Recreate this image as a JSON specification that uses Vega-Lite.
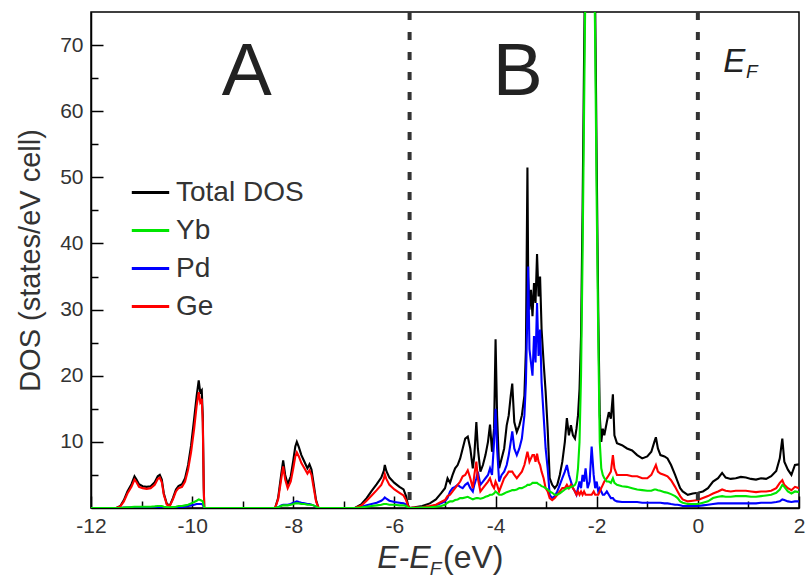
{
  "$schema": "https://vega.github.io/schema/vega-lite/v6.json",
  "width": 708,
  "height": 496,
  "autosize": {"type": "none"},
  "padding": {"left": 91, "top": 12, "right": 8, "bottom": 72},
  "config": {
    "font": "Liberation Sans",
    "view": {"stroke": "#000", "strokeWidth": 1.5},
    "axis": {"grid": false, "domainColor": "#000", "domainWidth": 1.5, "tickColor": "#000", "tickWidth": 1.5, "labelColor": "#333", "labelFontSize": 21, "titleColor": "#333", "titleFontWeight": "normal"},
    "legend": {"orient": "none", "legendX": 39, "legendY": 160, "symbolType": "stroke", "symbolStrokeWidth": 3, "symbolSize": 1400, "labelFontSize": 28, "labelColor": "#333", "labelOffset": 5, "rowPadding": 3}
  },
  "resolve": {"axis": {"x": "independent", "y": "independent"}},
  "datasets": {
    "dos": [
      {"x": -12, "T": 0, "Yb": 0, "Pd": 0, "Ge": 0},
      {"x": -11.5, "T": 0, "Yb": 0, "Pd": 0, "Ge": 0},
      {"x": -11.42, "T": 0.3, "Yb": 0, "Pd": 0, "Ge": 0.25},
      {"x": -11.35, "T": 1.2, "Yb": 0.05, "Pd": 0.05, "Ge": 1.0},
      {"x": -11.28, "T": 2.5, "Yb": 0.1, "Pd": 0.05, "Ge": 2.2},
      {"x": -11.2, "T": 3.6, "Yb": 0.15, "Pd": 0.1, "Ge": 3.2},
      {"x": -11.14, "T": 4.8, "Yb": 0.2, "Pd": 0.1, "Ge": 4.3},
      {"x": -11.1, "T": 4.3, "Yb": 0.2, "Pd": 0.1, "Ge": 3.9},
      {"x": -11.05, "T": 3.6, "Yb": 0.2, "Pd": 0.1, "Ge": 3.2},
      {"x": -10.98, "T": 3.3, "Yb": 0.2, "Pd": 0.1, "Ge": 3.0},
      {"x": -10.9, "T": 3.2, "Yb": 0.2, "Pd": 0.1, "Ge": 2.9},
      {"x": -10.82, "T": 3.3, "Yb": 0.2, "Pd": 0.1, "Ge": 3.0},
      {"x": -10.74, "T": 3.9, "Yb": 0.25, "Pd": 0.1, "Ge": 3.5},
      {"x": -10.68, "T": 4.8, "Yb": 0.3, "Pd": 0.1, "Ge": 4.4},
      {"x": -10.64, "T": 5.0, "Yb": 0.3, "Pd": 0.1, "Ge": 4.6},
      {"x": -10.6, "T": 4.3, "Yb": 0.3, "Pd": 0.1, "Ge": 3.9},
      {"x": -10.56, "T": 2.2, "Yb": 0.2, "Pd": 0.1, "Ge": 2.0},
      {"x": -10.5, "T": 0.6, "Yb": 0.1, "Pd": 0.05, "Ge": 0.5},
      {"x": -10.44, "T": 0.4, "Yb": 0.1, "Pd": 0.05, "Ge": 0.35},
      {"x": -10.38, "T": 1.5, "Yb": 0.15, "Pd": 0.1, "Ge": 1.3},
      {"x": -10.32, "T": 2.8, "Yb": 0.2, "Pd": 0.1, "Ge": 2.5},
      {"x": -10.27, "T": 3.3, "Yb": 0.3, "Pd": 0.1, "Ge": 3.0},
      {"x": -10.2, "T": 3.6, "Yb": 0.3, "Pd": 0.15, "Ge": 3.2},
      {"x": -10.14, "T": 4.5, "Yb": 0.4, "Pd": 0.2, "Ge": 4.0},
      {"x": -10.08, "T": 6.5, "Yb": 0.5, "Pd": 0.3, "Ge": 5.8},
      {"x": -10.02, "T": 9.5, "Yb": 0.7, "Pd": 0.4, "Ge": 8.5},
      {"x": -9.96, "T": 13.5, "Yb": 0.9, "Pd": 0.5, "Ge": 12.0},
      {"x": -9.91, "T": 17.0, "Yb": 1.1, "Pd": 0.6, "Ge": 15.5},
      {"x": -9.87, "T": 19.3, "Yb": 1.3, "Pd": 0.6, "Ge": 17.5},
      {"x": -9.84, "T": 17.5, "Yb": 1.2, "Pd": 0.6, "Ge": 16.0},
      {"x": -9.81, "T": 17.8, "Yb": 1.1, "Pd": 0.6, "Ge": 16.5},
      {"x": -9.79, "T": 14.0, "Yb": 1.0, "Pd": 0.5, "Ge": 13.0},
      {"x": -9.77, "T": 3.0, "Yb": 0.3, "Pd": 0.1, "Ge": 2.8},
      {"x": -9.76, "T": 0, "Yb": 0, "Pd": 0, "Ge": 0},
      {"x": -8.36, "T": 0, "Yb": 0, "Pd": 0, "Ge": 0},
      {"x": -8.3, "T": 1.5, "Yb": 0.1, "Pd": 0.1, "Ge": 1.3},
      {"x": -8.24, "T": 5.0, "Yb": 0.3, "Pd": 0.4, "Ge": 4.3},
      {"x": -8.2, "T": 7.2, "Yb": 0.4, "Pd": 0.5, "Ge": 6.3},
      {"x": -8.16, "T": 5.0, "Yb": 0.4, "Pd": 0.5, "Ge": 4.3},
      {"x": -8.11, "T": 3.6, "Yb": 0.4, "Pd": 0.5, "Ge": 3.0},
      {"x": -8.05, "T": 4.8, "Yb": 0.5, "Pd": 0.6, "Ge": 4.0},
      {"x": -8.0, "T": 7.2, "Yb": 0.6, "Pd": 0.8, "Ge": 6.0},
      {"x": -7.96, "T": 9.3, "Yb": 0.7, "Pd": 0.9, "Ge": 7.8},
      {"x": -7.93, "T": 10.0, "Yb": 0.7, "Pd": 1.0, "Ge": 8.4},
      {"x": -7.89, "T": 9.2, "Yb": 0.7, "Pd": 0.9, "Ge": 7.8},
      {"x": -7.84, "T": 8.0, "Yb": 0.6, "Pd": 0.8, "Ge": 6.8},
      {"x": -7.78, "T": 7.0, "Yb": 0.6, "Pd": 0.7, "Ge": 6.0},
      {"x": -7.72, "T": 6.0, "Yb": 0.5, "Pd": 0.6, "Ge": 5.2},
      {"x": -7.68, "T": 6.6, "Yb": 0.5, "Pd": 0.6, "Ge": 5.7},
      {"x": -7.64, "T": 5.8, "Yb": 0.5, "Pd": 0.5, "Ge": 5.0},
      {"x": -7.6, "T": 3.8, "Yb": 0.4, "Pd": 0.4, "Ge": 3.2},
      {"x": -7.55, "T": 1.2, "Yb": 0.2, "Pd": 0.2, "Ge": 1.0},
      {"x": -7.5, "T": 0, "Yb": 0, "Pd": 0, "Ge": 0},
      {"x": -6.78, "T": 0, "Yb": 0, "Pd": 0, "Ge": 0},
      {"x": -6.65, "T": 0.6, "Yb": 0.1, "Pd": 0.2, "Ge": 0.4},
      {"x": -6.55, "T": 1.5, "Yb": 0.2, "Pd": 0.4, "Ge": 1.1},
      {"x": -6.45, "T": 2.6, "Yb": 0.3, "Pd": 0.6, "Ge": 1.9},
      {"x": -6.35, "T": 3.6, "Yb": 0.4, "Pd": 0.8, "Ge": 2.7},
      {"x": -6.26, "T": 4.6, "Yb": 0.5, "Pd": 1.1, "Ge": 3.5},
      {"x": -6.21, "T": 5.6, "Yb": 0.6, "Pd": 1.4, "Ge": 4.4},
      {"x": -6.19, "T": 6.5, "Yb": 0.6, "Pd": 1.6, "Ge": 5.1},
      {"x": -6.16, "T": 5.6, "Yb": 0.6, "Pd": 1.4, "Ge": 4.4},
      {"x": -6.1, "T": 4.6, "Yb": 0.5, "Pd": 1.1, "Ge": 3.5},
      {"x": -6.0, "T": 3.8, "Yb": 0.5, "Pd": 0.9, "Ge": 2.8},
      {"x": -5.9, "T": 3.2, "Yb": 0.4, "Pd": 0.8, "Ge": 2.3},
      {"x": -5.82, "T": 2.8, "Yb": 0.4, "Pd": 0.7, "Ge": 1.9},
      {"x": -5.77, "T": 1.8, "Yb": 0.3, "Pd": 0.5, "Ge": 1.2},
      {"x": -5.73, "T": 0.4, "Yb": 0.1, "Pd": 0.1, "Ge": 0.3},
      {"x": -5.7, "T": 0, "Yb": 0, "Pd": 0, "Ge": 0},
      {"x": -5.6, "T": 0.1, "Yb": 0, "Pd": 0, "Ge": 0.05},
      {"x": -5.45, "T": 0.3, "Yb": 0.05, "Pd": 0.1, "Ge": 0.1},
      {"x": -5.3, "T": 0.7, "Yb": 0.1, "Pd": 0.2, "Ge": 0.3},
      {"x": -5.18, "T": 1.3, "Yb": 0.2, "Pd": 0.4, "Ge": 0.5},
      {"x": -5.08, "T": 2.2, "Yb": 0.3, "Pd": 0.7, "Ge": 0.9},
      {"x": -5.0, "T": 3.0, "Yb": 0.5, "Pd": 1.0, "Ge": 1.2},
      {"x": -4.95, "T": 4.5, "Yb": 0.8, "Pd": 1.5, "Ge": 1.8},
      {"x": -4.9, "T": 3.8, "Yb": 1.0, "Pd": 2.5, "Ge": 2.0},
      {"x": -4.85, "T": 5.0, "Yb": 1.0, "Pd": 3.0, "Ge": 2.5},
      {"x": -4.8, "T": 6.0, "Yb": 1.2, "Pd": 3.2, "Ge": 3.0},
      {"x": -4.75, "T": 6.5, "Yb": 1.3, "Pd": 3.5, "Ge": 3.5},
      {"x": -4.7, "T": 7.5, "Yb": 1.5, "Pd": 3.2, "Ge": 4.0},
      {"x": -4.65, "T": 9.0, "Yb": 1.5, "Pd": 3.0, "Ge": 4.8},
      {"x": -4.6, "T": 10.5, "Yb": 1.6, "Pd": 3.5, "Ge": 5.0},
      {"x": -4.55, "T": 10.8, "Yb": 1.7, "Pd": 3.8, "Ge": 5.7},
      {"x": -4.5, "T": 9.0, "Yb": 1.5, "Pd": 3.0, "Ge": 4.5},
      {"x": -4.45, "T": 6.0, "Yb": 1.3, "Pd": 2.5, "Ge": 3.0},
      {"x": -4.42, "T": 8.0, "Yb": 1.4, "Pd": 3.5, "Ge": 5.0},
      {"x": -4.38, "T": 13.0, "Yb": 1.5, "Pd": 4.5, "Ge": 7.0},
      {"x": -4.35, "T": 9.0, "Yb": 1.5, "Pd": 5.5, "Ge": 4.5},
      {"x": -4.3, "T": 5.5, "Yb": 1.4, "Pd": 3.5, "Ge": 2.5},
      {"x": -4.25, "T": 6.5, "Yb": 1.5, "Pd": 4.0, "Ge": 3.0},
      {"x": -4.2, "T": 8.0, "Yb": 1.7, "Pd": 4.5, "Ge": 3.5},
      {"x": -4.15, "T": 10.0, "Yb": 1.8, "Pd": 5.0, "Ge": 4.0},
      {"x": -4.11, "T": 12.6, "Yb": 2.0, "Pd": 6.0, "Ge": 4.5},
      {"x": -4.07, "T": 8.5, "Yb": 2.0, "Pd": 5.0, "Ge": 3.5},
      {"x": -4.03, "T": 12.0, "Yb": 2.2, "Pd": 10.0, "Ge": 3.0},
      {"x": -4.0, "T": 25.5, "Yb": 2.5, "Pd": 15.0, "Ge": 4.0},
      {"x": -3.97, "T": 14.0, "Yb": 2.3, "Pd": 9.0, "Ge": 3.5},
      {"x": -3.93, "T": 6.0, "Yb": 2.0, "Pd": 4.0, "Ge": 2.5},
      {"x": -3.88, "T": 7.5, "Yb": 2.0, "Pd": 5.0, "Ge": 3.5},
      {"x": -3.83, "T": 9.0, "Yb": 2.2, "Pd": 5.5, "Ge": 4.5},
      {"x": -3.78, "T": 12.5, "Yb": 2.4, "Pd": 6.5, "Ge": 5.0},
      {"x": -3.74, "T": 14.0, "Yb": 2.5, "Pd": 8.0, "Ge": 5.5},
      {"x": -3.7, "T": 17.0, "Yb": 2.6, "Pd": 10.0, "Ge": 5.5},
      {"x": -3.67, "T": 18.8, "Yb": 2.7, "Pd": 11.6, "Ge": 5.5},
      {"x": -3.63, "T": 13.0, "Yb": 2.7, "Pd": 9.0, "Ge": 5.0},
      {"x": -3.58, "T": 11.5, "Yb": 2.8, "Pd": 8.0, "Ge": 4.5},
      {"x": -3.53, "T": 12.5, "Yb": 3.0, "Pd": 9.0, "Ge": 5.0},
      {"x": -3.48, "T": 14.0, "Yb": 3.0, "Pd": 10.5, "Ge": 5.5},
      {"x": -3.43, "T": 17.0, "Yb": 3.2, "Pd": 14.0, "Ge": 6.5},
      {"x": -3.4, "T": 24.0, "Yb": 3.3, "Pd": 19.0, "Ge": 7.5},
      {"x": -3.37, "T": 51.5, "Yb": 3.5, "Pd": 30.0, "Ge": 8.5},
      {"x": -3.355, "T": 35.0, "Yb": 3.5, "Pd": 36.5, "Ge": 8.0},
      {"x": -3.33, "T": 30.0, "Yb": 3.5, "Pd": 24.0, "Ge": 7.0},
      {"x": -3.3, "T": 33.0, "Yb": 3.6, "Pd": 22.0, "Ge": 7.5},
      {"x": -3.27, "T": 29.0, "Yb": 3.8, "Pd": 20.0, "Ge": 8.0},
      {"x": -3.24, "T": 34.0, "Yb": 3.8, "Pd": 26.0, "Ge": 8.0},
      {"x": -3.21, "T": 31.0, "Yb": 3.8, "Pd": 22.0, "Ge": 7.0},
      {"x": -3.18, "T": 38.4, "Yb": 3.8, "Pd": 31.0, "Ge": 8.2},
      {"x": -3.15, "T": 32.0, "Yb": 3.6, "Pd": 23.0, "Ge": 7.0},
      {"x": -3.12, "T": 35.0, "Yb": 3.5, "Pd": 27.0, "Ge": 6.5},
      {"x": -3.09, "T": 27.0, "Yb": 3.3, "Pd": 19.0, "Ge": 5.5},
      {"x": -3.05, "T": 22.0, "Yb": 3.2, "Pd": 14.0, "Ge": 4.5},
      {"x": -3.01, "T": 17.6, "Yb": 3.0, "Pd": 9.0, "Ge": 3.0},
      {"x": -2.97, "T": 12.0, "Yb": 2.8, "Pd": 6.0, "Ge": 2.5},
      {"x": -2.93, "T": 4.5, "Yb": 2.5, "Pd": 2.0, "Ge": 1.5},
      {"x": -2.88, "T": 3.5, "Yb": 2.3, "Pd": 1.5, "Ge": 1.2},
      {"x": -2.83, "T": 3.0, "Yb": 2.0, "Pd": 1.8, "Ge": 1.5},
      {"x": -2.78, "T": 3.5, "Yb": 2.0, "Pd": 2.5, "Ge": 2.0},
      {"x": -2.73, "T": 5.0, "Yb": 2.2, "Pd": 3.5, "Ge": 2.5},
      {"x": -2.68, "T": 7.0, "Yb": 2.5, "Pd": 4.5, "Ge": 3.0},
      {"x": -2.63, "T": 10.0, "Yb": 2.8, "Pd": 5.5, "Ge": 3.0},
      {"x": -2.59, "T": 13.6, "Yb": 3.0, "Pd": 6.5, "Ge": 3.5},
      {"x": -2.55, "T": 11.0, "Yb": 3.0, "Pd": 5.0, "Ge": 3.0},
      {"x": -2.51, "T": 12.5, "Yb": 3.2, "Pd": 4.0, "Ge": 3.5},
      {"x": -2.47, "T": 11.0, "Yb": 3.3, "Pd": 3.0, "Ge": 3.0},
      {"x": -2.43, "T": 10.5, "Yb": 3.5, "Pd": 2.5, "Ge": 2.5},
      {"x": -2.4, "T": 12.0, "Yb": 4.0, "Pd": 2.0, "Ge": 2.0},
      {"x": -2.37, "T": 14.0, "Yb": 6.0, "Pd": 3.0, "Ge": 2.5},
      {"x": -2.34, "T": 18.0, "Yb": 10.0, "Pd": 4.0, "Ge": 2.0},
      {"x": -2.31, "T": 26.0, "Yb": 20.0, "Pd": 3.0, "Ge": 2.5},
      {"x": -2.28, "T": 45.0, "Yb": 38.0, "Pd": 5.0, "Ge": 2.0},
      {"x": -2.25, "T": 68.0, "Yb": 60.0, "Pd": 4.0, "Ge": 2.5},
      {"x": -2.22, "T": 90.0, "Yb": 82.0, "Pd": 6.0, "Ge": 2.0},
      {"x": -2.18, "T": 110.0, "Yb": 102.0, "Pd": 3.0, "Ge": 2.0},
      {"x": -2.14, "T": 120.0, "Yb": 112.0, "Pd": 4.0, "Ge": 2.0},
      {"x": -2.1, "T": 116.0, "Yb": 108.0, "Pd": 9.3, "Ge": 2.0},
      {"x": -2.06, "T": 98.0, "Yb": 90.0, "Pd": 5.0, "Ge": 2.5},
      {"x": -2.03, "T": 76.0, "Yb": 70.0, "Pd": 3.0, "Ge": 2.0},
      {"x": -2.0, "T": 52.0, "Yb": 46.0, "Pd": 4.0, "Ge": 2.0},
      {"x": -1.97, "T": 30.0, "Yb": 26.0, "Pd": 2.5, "Ge": 2.0},
      {"x": -1.94, "T": 14.0, "Yb": 10.0, "Pd": 3.0, "Ge": 2.5},
      {"x": -1.91, "T": 10.0, "Yb": 6.0, "Pd": 2.5, "Ge": 3.0},
      {"x": -1.88, "T": 12.0, "Yb": 5.0, "Pd": 2.0, "Ge": 3.5},
      {"x": -1.85, "T": 11.0, "Yb": 4.5, "Pd": 2.0, "Ge": 4.0},
      {"x": -1.8, "T": 13.0, "Yb": 4.0, "Pd": 2.5, "Ge": 4.5},
      {"x": -1.76, "T": 14.5, "Yb": 4.0, "Pd": 2.0, "Ge": 5.0},
      {"x": -1.72, "T": 13.5, "Yb": 3.8, "Pd": 1.5, "Ge": 5.5},
      {"x": -1.68, "T": 17.2, "Yb": 4.5, "Pd": 1.5, "Ge": 8.0},
      {"x": -1.65, "T": 11.0, "Yb": 3.8, "Pd": 1.2, "Ge": 6.0},
      {"x": -1.6, "T": 9.8, "Yb": 3.5, "Pd": 1.0, "Ge": 5.0},
      {"x": -1.5, "T": 9.5, "Yb": 3.3, "Pd": 0.9, "Ge": 5.0},
      {"x": -1.4, "T": 9.0, "Yb": 3.2, "Pd": 0.9, "Ge": 5.0},
      {"x": -1.3, "T": 8.7, "Yb": 3.0, "Pd": 0.9, "Ge": 4.8},
      {"x": -1.2, "T": 8.0, "Yb": 2.8, "Pd": 0.9, "Ge": 4.8},
      {"x": -1.1, "T": 7.5, "Yb": 2.7, "Pd": 0.8, "Ge": 4.5},
      {"x": -1.0, "T": 7.8, "Yb": 2.6, "Pd": 0.8, "Ge": 4.5},
      {"x": -0.92, "T": 8.5, "Yb": 2.6, "Pd": 0.8, "Ge": 5.0},
      {"x": -0.86, "T": 10.0, "Yb": 2.8, "Pd": 0.8, "Ge": 6.0},
      {"x": -0.83, "T": 10.7, "Yb": 2.8, "Pd": 0.8, "Ge": 6.5},
      {"x": -0.79, "T": 9.0, "Yb": 2.7, "Pd": 0.8, "Ge": 5.5},
      {"x": -0.74, "T": 8.0, "Yb": 2.6, "Pd": 0.8, "Ge": 5.2},
      {"x": -0.66, "T": 7.8, "Yb": 2.4, "Pd": 0.7, "Ge": 5.0},
      {"x": -0.6, "T": 7.5, "Yb": 2.3, "Pd": 0.7, "Ge": 4.8},
      {"x": -0.53, "T": 6.5, "Yb": 2.1, "Pd": 0.6, "Ge": 4.2},
      {"x": -0.45, "T": 5.0, "Yb": 1.8, "Pd": 0.5, "Ge": 3.2},
      {"x": -0.4, "T": 4.0, "Yb": 1.5, "Pd": 0.5, "Ge": 2.5},
      {"x": -0.35, "T": 3.0, "Yb": 1.0, "Pd": 0.4, "Ge": 1.8},
      {"x": -0.3, "T": 2.5, "Yb": 0.8, "Pd": 0.3, "Ge": 1.3},
      {"x": -0.2, "T": 2.0, "Yb": 0.6, "Pd": 0.3, "Ge": 1.0},
      {"x": -0.1, "T": 2.2, "Yb": 0.6, "Pd": 0.3, "Ge": 1.1},
      {"x": 0.0, "T": 2.3, "Yb": 0.6, "Pd": 0.3, "Ge": 1.2},
      {"x": 0.1, "T": 2.5, "Yb": 0.8, "Pd": 0.4, "Ge": 1.5},
      {"x": 0.2, "T": 3.0, "Yb": 1.0, "Pd": 0.5, "Ge": 1.8},
      {"x": 0.3, "T": 4.0, "Yb": 1.5, "Pd": 0.6, "Ge": 2.2},
      {"x": 0.4, "T": 4.5, "Yb": 1.7, "Pd": 0.7, "Ge": 2.5},
      {"x": 0.48, "T": 5.3, "Yb": 1.8, "Pd": 0.7, "Ge": 2.8},
      {"x": 0.55, "T": 4.6, "Yb": 1.7, "Pd": 0.7, "Ge": 2.6},
      {"x": 0.65, "T": 4.4, "Yb": 1.7, "Pd": 0.7, "Ge": 2.5},
      {"x": 0.75, "T": 4.5, "Yb": 1.8, "Pd": 0.7, "Ge": 2.6},
      {"x": 0.85, "T": 4.7, "Yb": 1.8, "Pd": 0.7, "Ge": 2.6},
      {"x": 0.95, "T": 4.6, "Yb": 1.8, "Pd": 0.7, "Ge": 2.6},
      {"x": 1.05, "T": 4.4, "Yb": 1.7, "Pd": 0.7, "Ge": 2.5},
      {"x": 1.15, "T": 4.3, "Yb": 1.7, "Pd": 0.7, "Ge": 2.4},
      {"x": 1.25, "T": 4.5, "Yb": 1.8, "Pd": 0.8, "Ge": 2.5},
      {"x": 1.35, "T": 4.4, "Yb": 1.9, "Pd": 0.8, "Ge": 2.5},
      {"x": 1.45, "T": 4.8, "Yb": 2.0, "Pd": 0.8, "Ge": 2.6},
      {"x": 1.55, "T": 5.6, "Yb": 2.3, "Pd": 0.9, "Ge": 3.0},
      {"x": 1.62, "T": 7.5, "Yb": 2.8, "Pd": 1.0, "Ge": 3.8},
      {"x": 1.67, "T": 10.5, "Yb": 3.5, "Pd": 1.3, "Ge": 4.2},
      {"x": 1.71, "T": 7.0, "Yb": 3.2, "Pd": 1.2, "Ge": 3.5},
      {"x": 1.78, "T": 5.8, "Yb": 2.5, "Pd": 1.0, "Ge": 3.0},
      {"x": 1.85, "T": 5.0, "Yb": 2.2, "Pd": 0.9, "Ge": 2.7},
      {"x": 1.92, "T": 6.5, "Yb": 2.5, "Pd": 1.0, "Ge": 3.2},
      {"x": 2.0, "T": 6.6, "Yb": 2.4, "Pd": 1.0, "Ge": 3.0}
    ],
    "vlines": [{"x": -5.7}, {"x": 0}],
    "big": [{"x": -8.92, "y": 62.4, "t": "A"}, {"x": -3.56, "y": 62.4, "t": "B"}],
    "ef": [{"x": 0.5, "y": 66.0, "t": "E"}],
    "efsub": [{"x": 0.95, "y": 65.0, "t": "F"}],
    "xt1": [{"x": -6.34, "y": -9.1, "t": "E-E"}],
    "xt2": [{"x": -5.3, "y": -10.1, "t": "F"}],
    "xt3": [{"x": -5.04, "y": -9.1, "t": "(eV)"}]
  },
  "layer": [
    {
      "data": {"name": "dos"},
      "transform": [{"fold": ["T", "Yb", "Pd", "Ge"], "as": ["s", "y"]}],
      "encoding": {
        "x": {"field": "x", "type": "quantitative", "scale": {"domain": [-12, 2], "nice": false, "zero": false},
          "axis": {"title": null, "orient": "bottom", "values": [-12, -10, -8, -6, -4, -2, 0, 2], "labelExpr": "'' + datum.value",
            "tickSize": -12, "labelPadding": 19, "labelFlush": false, "labelOverlap": false}},
        "y": {"field": "y", "type": "quantitative", "scale": {"domain": [0, 75], "nice": false},
          "axis": {"title": "DOS (states/eV cell)", "orient": "left", "titleFontSize": 29, "titlePadding": 14,
            "values": [10, 20, 30, 40, 50, 60, 70],
            "tickSize": -12, "labelPadding": 20, "labelOverlap": false}},
        "color": {"field": "s", "type": "nominal",
          "scale": {"domain": ["T", "Yb", "Pd", "Ge"], "range": ["#000000", "#00e600", "#0000ff", "#ff0000"]},
          "legend": {"title": null, "labelExpr": "datum.label === 'T' ? 'Total DOS' : datum.label"}}
      },
      "layer": [
        {"transform": [{"filter": "datum.s === 'T'"}], "mark": {"type": "line", "strokeWidth": 2.1, "clip": true}},
        {"transform": [{"filter": "datum.s === 'Pd'"}], "mark": {"type": "line", "strokeWidth": 2.1, "clip": true}},
        {"transform": [{"filter": "datum.s === 'Ge'"}], "mark": {"type": "line", "strokeWidth": 2.1, "clip": true}},
        {"transform": [{"filter": "datum.s === 'Yb'"}], "mark": {"type": "line", "strokeWidth": 2.1, "clip": true}}
      ]
    },
    {
      "data": {"name": "vlines"},
      "mark": {"type": "rule", "color": "#333", "strokeWidth": 4, "strokeDash": [8, 12]},
      "encoding": {"x": {"field": "x", "type": "quantitative",
        "axis": {"title": null, "orient": "bottom", "values": [-11, -9, -7, -5, -3, -1, 1], "labels": false, "domain": false, "tickSize": -7}}}
    },
    {
      "data": {"name": "big"},
      "mark": {"type": "text", "fontSize": 75, "color": "#222", "align": "center", "baseline": "alphabetic"},
      "encoding": {"x": {"field": "x", "type": "quantitative", "axis": null},
        "y": {"field": "y", "type": "quantitative",
          "axis": {"title": null, "orient": "left", "values": [5, 15, 25, 35, 45, 55, 65], "labels": false, "domain": false, "tickSize": -7}},
        "text": {"field": "t"}}
    },
    {
      "data": {"name": "ef"},
      "mark": {"type": "text", "fontSize": 33, "fontStyle": "italic", "color": "#222", "align": "left", "baseline": "alphabetic"},
      "encoding": {"x": {"field": "x", "type": "quantitative", "axis": null}, "y": {"field": "y", "type": "quantitative", "axis": null}, "text": {"field": "t"}}
    },
    {
      "data": {"name": "efsub"},
      "mark": {"type": "text", "fontSize": 19, "fontStyle": "italic", "color": "#222", "align": "left", "baseline": "alphabetic"},
      "encoding": {"x": {"field": "x", "type": "quantitative", "axis": null}, "y": {"field": "y", "type": "quantitative", "axis": null}, "text": {"field": "t"}}
    },
    {
      "data": {"name": "xt1"},
      "mark": {"type": "text", "fontSize": 32, "fontStyle": "italic", "color": "#333", "align": "left", "baseline": "alphabetic"},
      "encoding": {"x": {"field": "x", "type": "quantitative", "axis": null}, "y": {"field": "y", "type": "quantitative", "axis": null}, "text": {"field": "t"}}
    },
    {
      "data": {"name": "xt2"},
      "mark": {"type": "text", "fontSize": 19, "fontStyle": "italic", "color": "#333", "align": "left", "baseline": "alphabetic"},
      "encoding": {"x": {"field": "x", "type": "quantitative", "axis": null}, "y": {"field": "y", "type": "quantitative", "axis": null}, "text": {"field": "t"}}
    },
    {
      "data": {"name": "xt3"},
      "mark": {"type": "text", "fontSize": 32, "color": "#333", "align": "left", "baseline": "alphabetic"},
      "encoding": {"x": {"field": "x", "type": "quantitative", "axis": null}, "y": {"field": "y", "type": "quantitative", "axis": null}, "text": {"field": "t"}}
    }
  ]
}
